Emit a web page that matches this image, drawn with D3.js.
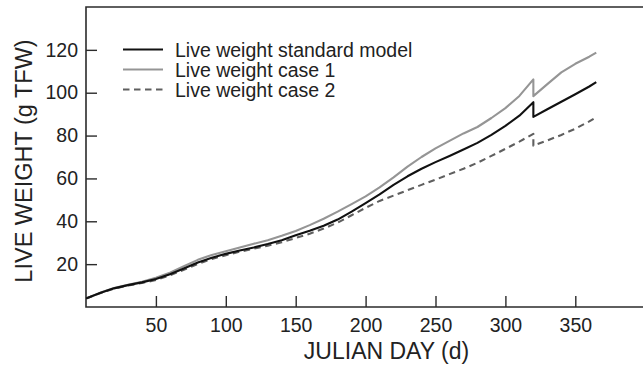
<!DOCTYPE html>
<html>
<head>
<meta charset="utf-8">
<script src="https://cdn.jsdelivr.net/npm/d3@7"></script>
<style>
  html, body { margin: 0; padding: 0; background: #fff; }
  svg { display: block; font-family: "Liberation Sans", Arial, Helvetica, sans-serif; }
</style>
</head>
<body>
<svg id="chart" width="643" height="367"></svg>
<script>
// Julian day of each sample (day 320 appears twice: the value drops at that day)
const days = [0, 10, 20, 30, 40, 50, 60, 70, 80, 90, 100, 110, 120, 130, 140, 150, 160, 170, 180, 190,
  200, 210, 220, 230, 240, 250, 260, 270, 280, 290, 300, 310, 320, 320, 330, 340, 350, 360, 365];

// Live weight (g TFW), standard model
const standardModel = [4.0, 6.5, 8.7, 10.2, 11.5, 13.1, 15.3, 18.0, 20.8, 23.0, 24.8, 26.4, 27.8, 29.4, 31.2, 33.5, 35.6, 37.9, 40.8, 44.5,
  48.5, 52.6, 57.0, 61.0, 64.5, 67.6, 70.5, 73.5, 76.6, 80.3, 84.5, 89.3, 95.6, 88.7, 92.3, 95.8, 99.3, 102.9, 104.9];

// Live weight (g TFW), case 1
const case1 = [4.0, 6.6, 8.9, 10.4, 11.8, 13.6, 16.0, 19.0, 22.0, 24.3, 26.0, 27.8, 29.5, 31.2, 33.2, 35.5, 38.2, 41.2, 44.5, 48.0,
  51.6, 55.8, 60.5, 65.5, 70.0, 74.0, 77.5, 81.0, 84.0, 88.2, 92.8, 98.5, 106.2, 98.4, 104.0, 109.5, 113.5, 116.8, 118.7];

// Live weight (g TFW), case 2
const case2 = [4.0, 6.4, 8.5, 10.0, 11.2, 12.6, 14.8, 17.4, 20.1, 22.4, 24.2, 25.8, 27.2, 28.6, 30.2, 32.2, 34.2, 36.6, 39.4, 42.8,
  46.3, 49.5, 52.0, 54.5, 57.0, 59.4, 62.0, 64.5, 67.3, 70.5, 73.8, 77.2, 80.8, 75.3, 77.7, 80.3, 83.2, 86.6, 88.6];

const seriesNames = ["Live weight standard model", "Live weight case 1", "Live weight case 2"];
const xTicks = [50, 100, 150, 200, 250, 300, 350];
const yTicks = [20, 40, 60, 80, 100, 120];

const svg = d3.select("#chart");

const x = d3.scaleLinear().domain([0, 400]).range([86, 645.2]);
const y = d3.scaleLinear().domain([0, 140]).range([307, 7]);

const frameColor = "#2b2b2b";
const textColor = "#222";

// Plot frame: left, bottom and top edges (the right edge lies past the page)
svg.append("path")
  .attr("d", `M${x(400)},${y(140)}H${x(0)}V${y(0)}H${x(400)}`)
  .attr("fill", "none")
  .attr("stroke", frameColor)
  .attr("stroke-width", 1.6);

// X axis: ticks point inward
const xAxis = d3.axisBottom(x).tickValues(xTicks).tickSizeInner(-11).tickSizeOuter(0).tickPadding(11);
const gx = svg.append("g").attr("transform", `translate(0,${y(0)})`).call(xAxis);
gx.select(".domain").remove();
gx.selectAll(".tick line").attr("stroke", frameColor).attr("stroke-width", 1.4);
gx.selectAll(".tick text")
  .attr("fill", textColor)
  .style("font-size", "19.5px");

// Y axis: ticks point inward
const yAxis = d3.axisLeft(y).tickValues(yTicks).tickSizeInner(-11).tickSizeOuter(0).tickPadding(8);
const gy = svg.append("g").attr("transform", `translate(${x(0)},0)`).call(yAxis);
gy.select(".domain").remove();
gy.selectAll(".tick line").attr("stroke", frameColor).attr("stroke-width", 1.4);
gy.selectAll(".tick text")
  .attr("fill", textColor)
  .style("font-size", "19.5px");

// Axis titles
svg.append("text")
  .attr("x", 386.5)
  .attr("y", 358.5)
  .attr("text-anchor", "middle")
  .attr("fill", textColor)
  .style("font-size", "23px")
  .text("JULIAN DAY (d)");

svg.append("text")
  .attr("transform", "translate(32,161) rotate(-90)")
  .attr("text-anchor", "middle")
  .attr("fill", textColor)
  .style("font-size", "23.5px")
  .text("LIVE WEIGHT (g TFW)");

// Series lines
const styles = [
  { values: standardModel, color: "#111", width: 2.1, dash: null },
  { values: case1, color: "#959595", width: 2.1, dash: null },
  { values: case2, color: "#5f5f5f", width: 2.1, dash: "6.5,4.5" }
];

const line = d3.line()
  .x(d => x(d[0]))
  .y(d => y(d[1]))
  .curve(d3.curveLinear);

// Draw gray first so the black line sits on top
[1, 2, 0].forEach(i => {
  const s = styles[i];
  svg.append("path")
    .datum(days.map((d, k) => [d, s.values[k]]))
    .attr("d", line)
    .attr("fill", "none")
    .attr("stroke", s.color)
    .attr("stroke-width", s.width)
    .attr("stroke-linejoin", "round")
    .attr("stroke-dasharray", s.dash);
});

// Legend
const legend = svg.append("g").attr("transform", "translate(123,49.5)");
styles.forEach((s, i) => {
  const row = legend.append("g").attr("transform", `translate(0,${i * 20})`);
  row.append("line")
    .attr("x1", 0).attr("x2", 40)
    .attr("y1", 0).attr("y2", 0)
    .attr("stroke", s.color)
    .attr("stroke-width", s.width)
    .attr("stroke-dasharray", s.dash);
  row.append("text")
    .attr("x", 52)
    .attr("y", 7)
    .attr("fill", textColor)
    .style("font-size", "19.5px")
    .text(seriesNames[i]);
});
</script>
</body>
</html>
